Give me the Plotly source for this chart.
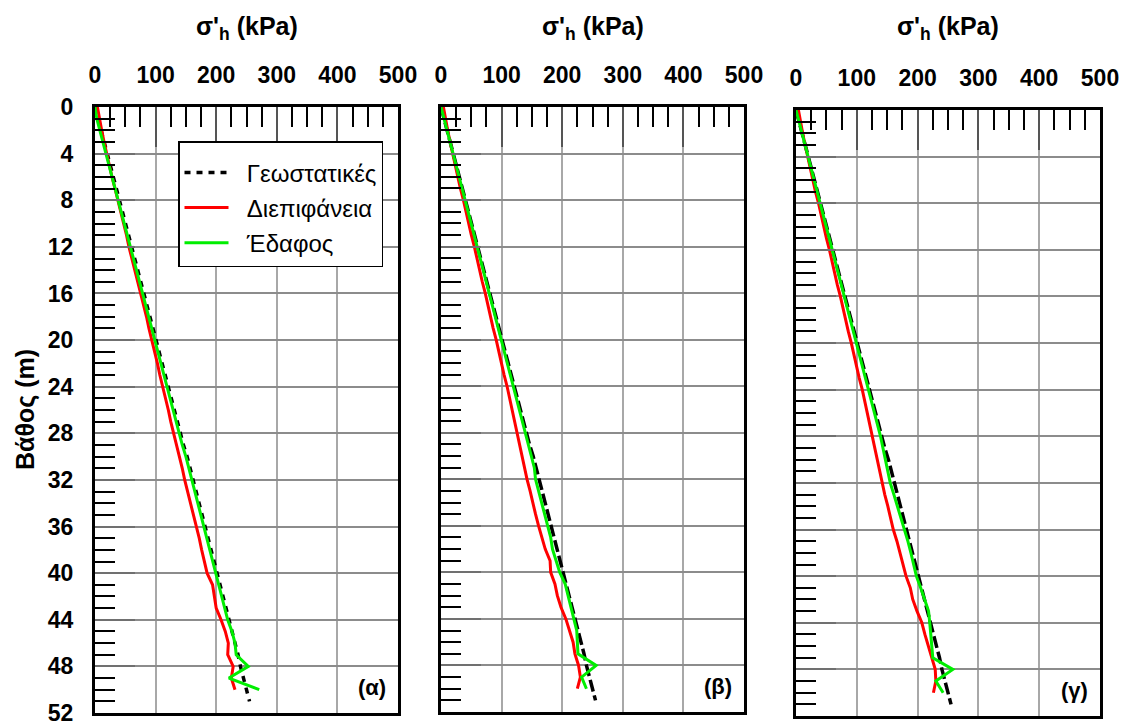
import plotly.graph_objects as go

# ---------------- data ----------------
depth_geo = list(range(0, 52))
geo = [0, 5, 10, 15, 20, 25, 30, 35, 40, 45, 50, 56, 61, 66, 71, 76, 81, 86, 91, 96,
       101, 106, 111, 116, 121, 126, 131, 136, 141, 146, 152, 157, 162, 167, 172, 177,
       182, 187, 192, 197, 202, 207, 212, 216, 221, 226, 231, 236, 240, 245, 250, 255]

depth = list(range(0, 51))

red_a = [4, 7, 11, 15, 19, 24, 28, 33, 38, 42, 47, 52, 56, 61, 66, 71, 75, 80, 85, 89,
         94, 98, 103, 107, 112, 117, 121, 125, 130, 134, 139, 144, 148, 153, 158, 162,
         167, 172, 176, 180, 185, 194, 197, 200, 208, 215, 220, 219, 228, 225, 231]
green_a = [0, 3, 8, 13, 18, 23, 28, 33, 38, 43, 48, 54, 59, 64, 69, 74, 79, 84, 89, 94,
           99, 104, 109, 114, 119, 124, 129, 134, 139, 144, 150, 155, 160, 165, 170, 175,
           180, 185, 190, 195, 200, 205, 210, 214, 219, 226, 231, 233, 253, 221, 271]

red_b = [4, 7, 11, 15, 19, 23, 28, 32, 37, 41, 46, 50, 55, 59, 64, 68, 73, 77, 82, 86,
         91, 95, 100, 104, 109, 113, 118, 122, 126, 130, 134, 138, 142, 147, 151, 156,
         161, 166, 172, 180, 181, 188, 192, 198, 206, 212, 218, 221, 227, 230, 225]
green_b = [0, 5, 10, 15, 20, 25, 30, 35, 40, 45, 50, 55, 60, 65, 70, 75, 80, 85, 90, 95,
           100, 105, 110, 115, 120, 125, 130, 135, 140, 145, 150, 154, 156, 161, 167, 172,
           177, 181, 184, 190, 196, 205, 210, 215, 220, 224, 225, 226, 256, 232, 240]

red_c = [4, 7, 11, 15, 19, 23, 28, 32, 37, 41, 46, 50, 55, 59, 64, 68, 73, 77, 82, 86,
         91, 95, 100, 104, 109, 113, 118, 122, 126, 130, 134, 137, 141, 146, 151, 155,
         160, 166, 171, 176, 181, 188, 192, 199, 207, 212, 218, 224, 229, 230, 226]
green_c = [0, 5, 10, 15, 20, 25, 30, 35, 40, 45, 50, 55, 60, 65, 70, 75, 80, 85, 90, 95,
           100, 105, 110, 115, 120, 125, 130, 135, 139, 143, 147, 151, 155, 161, 167, 173,
           179, 184, 189, 194, 198, 205, 212, 218, 220, 222, 224, 225, 258, 230, 242]

x_ticks = [0, 100, 200, 300, 400, 500]
y_ticks = [0, 4, 8, 12, 16, 20, 24, 28, 32, 36, 40, 44, 48, 52]
panel_labels = ["(α)", "(β)", "(γ)"]
legend_names = ["Γεωστατικές", "Διεπιφάνεια", "Έδαφος"]
x_title = "σ'<sub>h</sub> (kPa)"
y_title = "Βάθος (m)"

# ---------------- layout geometry ----------------
W, H = 1127, 722
panels_px = [(95, 398, 107, 713), (441, 744, 107, 712), (796, 1100, 110, 716)]
FONT = "Liberation Sans"
PAD = "\u00a0\u00a0"

fig = go.Figure()

series = [(red_a, green_a), (red_b, green_b), (red_c, green_c)]
geo_dash = ["6px,6px", "12px,4px", "12px,4px"]

for i, (red, green) in enumerate(series):
    k = "" if i == 0 else str(i + 1)
    show = i == 0
    fig.add_trace(go.Scatter(x=geo, y=depth_geo, mode="lines", name=PAD + legend_names[0],
                             line=dict(color="black", width=3.5, dash=geo_dash[i]),
                             xaxis="x" + k, yaxis="y" + k, showlegend=show,
                             legendgroup="g0"))
    fig.add_trace(go.Scatter(x=red, y=depth, mode="lines", name=PAD + legend_names[1],
                             line=dict(color="#ff0000", width=3),
                             xaxis="x" + k, yaxis="y" + k, showlegend=show,
                             legendgroup="g1"))
    fig.add_trace(go.Scatter(x=green, y=depth, mode="lines", name=PAD + legend_names[2],
                             line=dict(color="#00ee00", width=3),
                             xaxis="x" + k, yaxis="y" + k, showlegend=show,
                             legendgroup="g2"))

layout = dict(
    template="none",
    width=W, height=H, autosize=False,
    margin=dict(l=0, r=0, t=0, b=0, pad=0, autoexpand=False),
    paper_bgcolor="white", plot_bgcolor="white",
    font=dict(family=FONT, color="black"),
    legend=dict(x=178 / W, y=1 - 141 / H, xanchor="left", yanchor="top",
                font=dict(family=FONT, size=24, color="black"),
                title=dict(text=" ", font=dict(size=6)),
                bgcolor="white", bordercolor="black", borderwidth=1.5,
                tracegroupgap=1, traceorder="grouped", itemwidth=44),
    annotations=[],
)

for i, (x0, x1, y0, y1) in enumerate(panels_px):
    k = "" if i == 0 else str(i + 1)
    layout["xaxis" + k] = dict(
        domain=[x0 / W, x1 / W], anchor="y" + k, side="top", automargin=False,
        range=[0, 500], tickmode="array", tickvals=x_ticks,
        ticks="inside", ticklen=40, tickwidth=2, tickcolor="#555555",
        minor=dict(dtick=25, tick0=0, ticks="inside", ticklen=20, tickwidth=2,
                   tickcolor="black", showgrid=False),
        showgrid=True, gridcolor="#a8a8a8", gridwidth=1.5,
        showline=True, linecolor="black", linewidth=3, mirror=True,
        zeroline=False, ticklabelstandoff=12, ticklabeloverflow="allow",
        tickfont=dict(family=FONT, size=23, weight="bold", color="black"),
        fixedrange=True,
    )
    layout["yaxis" + k] = dict(
        domain=[1 - y1 / H, 1 - y0 / H], anchor="x" + k, automargin=False,
        range=[52, 0], tickmode="array", tickvals=y_ticks,
        ticks="inside", ticklen=40, tickwidth=2, tickcolor="#707070",
        minor=dict(dtick=1, tick0=0, ticks="inside", ticklen=20, tickwidth=2,
                   tickcolor="black", showgrid=False),
        showgrid=True, gridcolor="#8c8c8c", gridwidth=2,
        showline=True, linecolor="black", linewidth=3, mirror=True,
        zeroline=False, showticklabels=(i == 0), ticklabelstandoff=14,
        ticklabeloverflow="allow",
        tickfont=dict(family=FONT, size=23, weight="bold", color="black"),
        fixedrange=True,
    )
    layout["annotations"].append(dict(
        text=x_title, xref="paper", yref="paper",
        x=(x0 + x1) / 2 / W, y=1 - 28 / H, xanchor="center", yanchor="middle",
        showarrow=False, font=dict(family=FONT, size=25, weight="bold", color="black")))
    layout["annotations"].append(dict(
        text=panel_labels[i], xref="x" + k + " domain", yref="y" + k + " domain",
        x=0.967, y=0.018, xanchor="right", yanchor="bottom",
        showarrow=False, font=dict(family=FONT, size=22, weight="bold", color="black")))

layout["annotations"].append(dict(
    text=y_title, xref="paper", yref="paper", x=25 / W, y=1 - 410 / H,
    xanchor="center", yanchor="middle", textangle=-90, showarrow=False,
    font=dict(family=FONT, size=25, weight="bold", color="black")))

fig.update_layout(**layout)
fig.write_html("out.html", config={"displayModeBar": False},
               post_script="document.body.style.margin='0';"
                           "document.body.style.padding='0';"
                           "document.body.style.overflow='hidden';"
                           "document.documentElement.style.overflow='hidden';")
